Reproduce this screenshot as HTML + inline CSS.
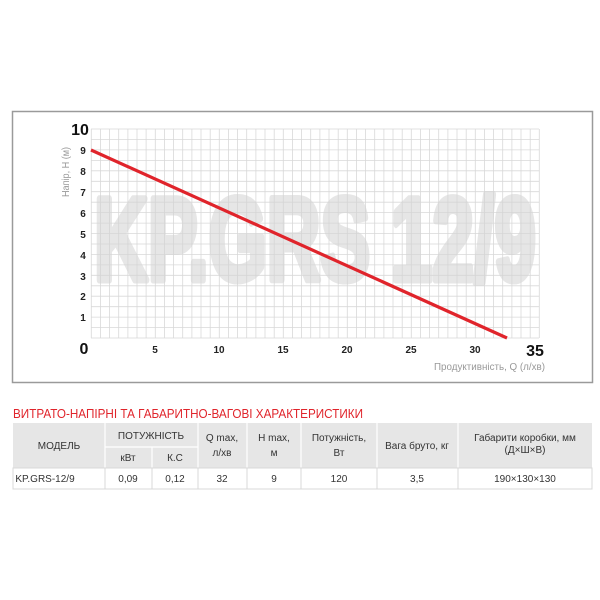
<!DOCTYPE html>
<html><head><meta charset="utf-8"><style>
html,body{margin:0;padding:0;background:#fff;}
svg{display:block;font-family:"Liberation Sans",sans-serif;}
</style></head><body>
<svg width="600" height="600" viewBox="0 0 600 600" xmlns="http://www.w3.org/2000/svg">
<rect x="12.5" y="111.5" width="580" height="271" fill="#fff" stroke="#9a9a9a" stroke-width="1.5"/>
<text x="94" y="280" font-size="118" font-weight="bold" fill="#e6e6e6" stroke="#e6e6e6" stroke-width="7" stroke-linejoin="round" textLength="442" lengthAdjust="spacingAndGlyphs">KP.GRS 12/9</text>
<g stroke="#d4d4d4" stroke-width="0.8" opacity="0.9">
<path d="M91.3 129V338M100.4 129V338M109.6 129V338M118.7 129V338M127.9 129V338M137 129V338M146.1 129V338M155.3 129V338M164.4 129V338M173.6 129V338M182.7 129V338M191.9 129V338M201 129V338M210.2 129V338M219.3 129V338M228.4 129V338M237.6 129V338M246.7 129V338M255.9 129V338M265 129V338M274.2 129V338M283.3 129V338M292.4 129V338M301.6 129V338M310.7 129V338M319.9 129V338M329 129V338M338.2 129V338M347.3 129V338M356.4 129V338M365.6 129V338M374.7 129V338M383.9 129V338M393 129V338M402.2 129V338M411.3 129V338M420.4 129V338M429.6 129V338M438.7 129V338M447.9 129V338M457 129V338M466.2 129V338M475.3 129V338M484.4 129V338M493.6 129V338M502.7 129V338M511.9 129V338M521 129V338M530.2 129V338M539.3 129V338"/>
<path d="M91 129H539M91 139.5H539M91 149.9H539M91 160.4H539M91 170.8H539M91 181.3H539M91 191.7H539M91 202.2H539M91 212.6H539M91 223.1H539M91 233.5H539M91 244H539M91 254.4H539M91 264.9H539M91 275.3H539M91 285.8H539M91 296.2H539M91 306.7H539M91 317.1H539M91 327.6H539M91 338H539"/>
</g>
<line x1="91" y1="150" x2="507" y2="338" stroke="#e0242b" stroke-width="3.2"/>
<g font-weight="bold" fill="#222" font-size="10" text-anchor="middle">
<text x="83" y="154">9</text><text x="83" y="175">8</text><text x="83" y="196">7</text><text x="83" y="217">6</text><text x="83" y="238">5</text><text x="83" y="259">4</text><text x="83" y="280">3</text><text x="83" y="300">2</text><text x="83" y="321">1</text>
<text x="155" y="353">5</text><text x="219" y="353">10</text><text x="283" y="353">15</text><text x="347" y="353">20</text><text x="411" y="353">25</text><text x="475" y="353">30</text>
</g>
<text x="80" y="135" font-size="16" font-weight="bold" fill="#111" text-anchor="middle">10</text>
<text x="84" y="354" font-size="16" font-weight="bold" fill="#111" text-anchor="middle">0</text>
<text x="535" y="356" font-size="16" font-weight="bold" fill="#111" text-anchor="middle">35</text>
<text x="545" y="370" font-size="10" fill="#999" text-anchor="end" textLength="111" lengthAdjust="spacingAndGlyphs">Продуктивність, Q (л/хв)</text>
<text transform="translate(69,172) rotate(-90)" font-size="10" fill="#999" text-anchor="middle" textLength="50" lengthAdjust="spacingAndGlyphs">Напір, Н (м)</text>

<text x="13" y="418" font-size="13" fill="#e0242b" textLength="350" lengthAdjust="spacingAndGlyphs">ВИТРАТО-НАПІРНІ ТА ГАБАРИТНО-ВАГОВІ ХАРАКТЕРИСТИКИ</text>
<rect x="13" y="423" width="579" height="45" fill="#e6e6e6"/>
<g stroke="#fff" stroke-width="1.2">
<path d="M105 423V468M198 423V468M247 423V468M301 423V468M377 423V468M458 423V468M152 447V468M105 447H198"/>
</g>
<g stroke="#d8d8d8" stroke-width="1" fill="none">
<rect x="13" y="468" width="579" height="21"/>
<path d="M105 468V489M152 468V489M198 468V489M247 468V489M301 468V489M377 468V489M458 468V489"/>
</g>
<g font-size="10" fill="#333" text-anchor="middle">
<text x="59" y="449">МОДЕЛЬ</text>
<text x="151" y="439">ПОТУЖНІСТЬ</text>
<text x="128" y="461">кВт</text>
<text x="175" y="461">К.С</text>
<text x="222" y="441">Q max,</text><text x="222" y="456">л/хв</text>
<text x="274" y="441">H max,</text><text x="274" y="456">м</text>
<text x="339" y="441">Потужність,</text><text x="339" y="456">Вт</text>
<text x="417" y="449">Вага бруто, кг</text>
<text x="525" y="441">Габарити коробки, мм</text><text x="525" y="453">(Д×Ш×В)</text>
<text x="45" y="482">KP.GRS-12/9</text>
<text x="128" y="482">0,09</text><text x="175" y="482">0,12</text>
<text x="222" y="482">32</text><text x="274" y="482">9</text><text x="339" y="482">120</text>
<text x="417" y="482">3,5</text><text x="525" y="482">190×130×130</text>
</g>
</svg>
</body></html>
